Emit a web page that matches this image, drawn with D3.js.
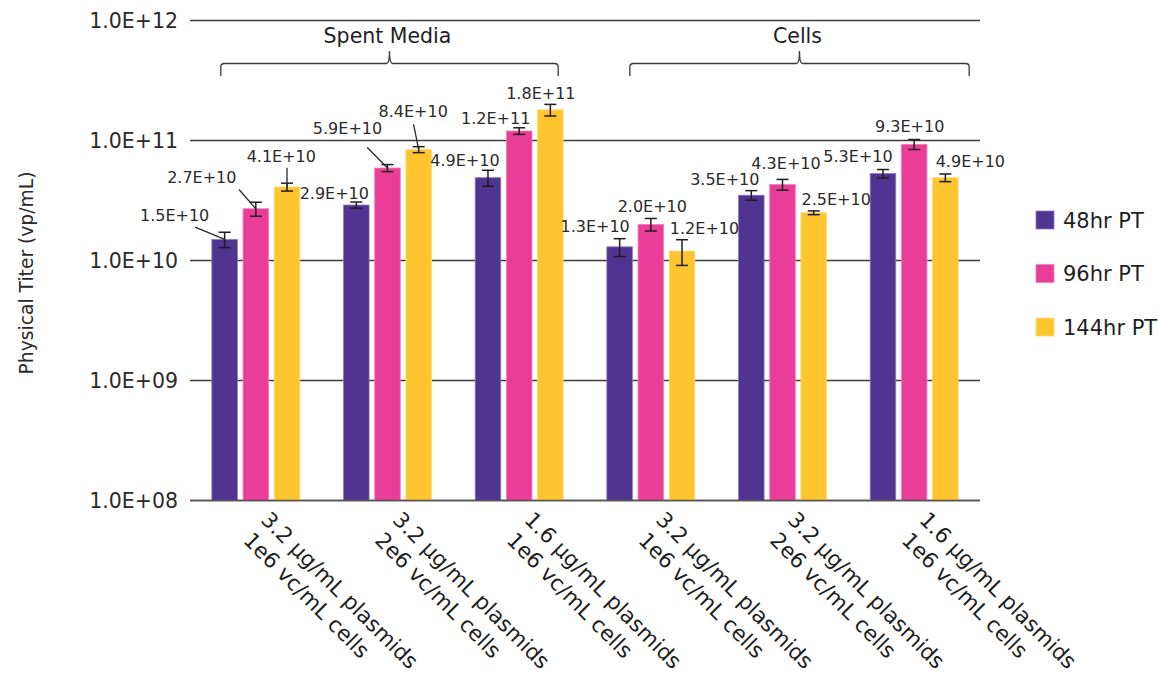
<!DOCTYPE html>
<html>
<head>
<meta charset="utf-8">
<script src="https://cdn.jsdelivr.net/npm/d3@7"></script>
<style>
  html, body { margin: 0; padding: 0; background: #fff; }
  svg { display: block; font-family: "DejaVu Sans", Verdana, sans-serif; }
</style>
</head>
<body>
<svg id="chart" width="1158" height="673"></svg>
<script>
// Condition labels (two lines each)
const categoryLine1 = ["3.2 µg/mL plasmids", "3.2 µg/mL plasmids", "1.6 µg/mL plasmids",
                       "3.2 µg/mL plasmids", "3.2 µg/mL plasmids", "1.6 µg/mL plasmids"];
const categoryLine2 = ["1e6 vc/mL cells", "2e6 vc/mL cells", "1e6 vc/mL cells",
                       "1e6 vc/mL cells", "2e6 vc/mL cells", "1e6 vc/mL cells"];

// Harvest time points
const seriesNames = ["48hr PT", "96hr PT", "144hr PT"];

// Physical titer (vp/mL)
const titer48 = [1.5e10, 2.9e10, 4.9e10, 1.3e10, 3.5e10, 5.3e10];
const titer96 = [2.7e10, 5.9e10, 1.2e11, 2.0e10, 4.3e10, 9.3e10];
const titer144 = [4.1e10, 8.4e10, 1.8e11, 1.2e10, 2.5e10, 4.9e10];

// Standard deviations (vp/mL)
const sd48 = [2.2e9, 1.7e9, 7.5e9, 2.2e9, 3.2e9, 4.3e9];
const sd96 = [3.6e9, 4.0e9, 7.6e9, 2.4e9, 4.4e9, 8.9e9];
const sd144 = [3.1e9, 4.8e9, 2.0e10, 2.9e9, 0.9e9, 3.6e9];

// Sample groupings shown above the plot
const groupNames = ["Spent Media", "Cells"];
const groupMembers = [[0, 1, 2], [3, 4, 5]];

const yTicks = [1e8, 1e9, 1e10, 1e11, 1e12];

// ---- layout ----
const colors = ["#4f3491", "#e93d97", "#fec52e"];
const plot = { left: 190, right: 980, top: 20.5, bottom: 500.5 };

// value label placement: [dx from bar centre to text centre, dy from bar top to baseline]
const labelOffsets = [
  [[-50, -18], [-22, -6], [-23, -11.5], [-24.5, -15], [-26.5, -10.7], [-25, -11.8]],
  [[-54, -26], [-40, -33.5], [-23.5, -6.5], [1.5, -12.6], [3.5, -15], [-4.5, -12.1]],
  [[-5.7, -24.8], [-5.5, -32.8], [-9.5, -10.4], [22.5, -16.5], [22.5, -8.2], [25, -10.9]]
];
// leader line start, relative to the bar top centre (null = no leader)
const leaderStarts = [
  [[-29.5, -12.2], null, null, null, null, null],
  [[-16.8, -19.2], [-20.4, -20.8], null, null, null, null],
  [[0, -19.2], [-5.1, -25.1], null, null, null, null]
];
// bracket extent relative to first / last group centre
const bracketPad = [[-35, 39], [-21, 55]];

const seriesValues = [titer48, titer96, titer144];
const seriesErrors = [sd48, sd96, sd144];

const svg = d3.select("#chart");

const x0 = d3.scaleBand()
  .domain(d3.range(categoryLine1.length))
  .range([plot.left, plot.right])
  .paddingInner(0.332)
  .paddingOuter(0.166);

const x1 = d3.scaleBand()
  .domain(d3.range(seriesNames.length))
  .range([0, x0.bandwidth()])
  .paddingInner(0.18);

const y = d3.scaleLog()
  .domain([1e8, 1e12])
  .range([plot.bottom, plot.top]);

// scientific notation with a two-digit exponent, e.g. 1.0E+09
const fmt = v => {
  const [m, e] = v.toExponential(1).split("e");
  const sign = e[0] === "-" ? "-" : "+";
  const digits = e.replace(/^[+-]/, "").padStart(2, "0");
  return `${m}E${sign}${digits}`;
};

// gridlines
svg.append("g")
  .selectAll("line")
  .data(yTicks)
  .join("line")
  .attr("x1", plot.left)
  .attr("x2", plot.right)
  .attr("y1", d => y(d))
  .attr("y2", d => y(d))
  .attr("stroke", "#3c3c3c")
  .attr("stroke-width", 1.3);

// y-axis tick labels
const yAxis = d3.axisLeft(y).tickValues(yTicks).tickFormat(fmt).tickSize(0).tickPadding(12);
const yAxisG = svg.append("g")
  .attr("transform", `translate(${plot.left},0)`)
  .call(yAxis);
yAxisG.select(".domain").remove();
yAxisG.selectAll("text")
  .attr("font-size", 20.5)
  .attr("fill", "#2a2a2a")
  .attr("font-family", "DejaVu Sans, Verdana, sans-serif");

// axis title
svg.append("text")
  .attr("transform", `translate(33,273) rotate(-90)`)
  .attr("text-anchor", "middle")
  .attr("font-size", 18.7)
  .attr("fill", "#2a2a2a")
  .text("Physical Titer (vp/mL)");

// bars
const barData = [];
seriesValues.forEach((vals, s) => vals.forEach((v, g) => barData.push({ s, g, v, e: seriesErrors[s][g] })));
const cx = d => x0(d.g) + x1(d.s) + x1.bandwidth() / 2;

svg.append("g")
  .selectAll("rect")
  .data(barData)
  .join("rect")
  .attr("x", d => x0(d.g) + x1(d.s))
  .attr("width", x1.bandwidth())
  .attr("y", d => y(d.v))
  .attr("height", d => plot.bottom - y(d.v))
  .attr("fill", d => colors[d.s])
  .attr("stroke", d => d3.interpolateRgb(colors[d.s], "#ffffff")(0.35))
  .attr("stroke-width", 0.8);

// error bars
const capHalf = 6;
const eb = svg.append("g").attr("stroke", "#1e1e1e").attr("stroke-width", 1.5);
barData.forEach(d => {
  const yt = y(d.v + d.e), yb = y(d.v - d.e), c = cx(d);
  eb.append("line").attr("x1", c).attr("x2", c).attr("y1", yt).attr("y2", yb);
  eb.append("line").attr("x1", c - capHalf).attr("x2", c + capHalf).attr("y1", yt).attr("y2", yt);
  eb.append("line").attr("x1", c - capHalf).attr("x2", c + capHalf).attr("y1", yb).attr("y2", yb);
});

// leader lines
barData.forEach(d => {
  const ls = leaderStarts[d.s][d.g];
  if (!ls) return;
  svg.append("line")
    .attr("x1", cx(d) + ls[0]).attr("y1", y(d.v) + ls[1])
    .attr("x2", cx(d)).attr("y2", y(d.v))
    .attr("stroke", "#2a2a2a")
    .attr("stroke-width", 1.3);
});

// value labels
svg.append("g")
  .selectAll("text")
  .data(barData)
  .join("text")
  .attr("x", d => cx(d) + labelOffsets[d.s][d.g][0])
  .attr("y", d => y(d.v) + labelOffsets[d.s][d.g][1])
  .attr("text-anchor", "middle")
  .attr("font-size", 16)
  .attr("fill", "#2a2a2a")
  .text(d => fmt(d.v));

// bottom axis line
svg.append("line")
  .attr("x1", plot.left).attr("x2", plot.right)
  .attr("y1", plot.bottom).attr("y2", plot.bottom)
  .attr("stroke", "#555").attr("stroke-width", 1.3);

// rotated category labels
categoryLine1.forEach((l1, i) => {
  const c = x0(i) + x0.bandwidth() / 2;
  const t = svg.append("text")
    .attr("transform", `translate(${c + 4},521) rotate(45)`)
    .attr("font-size", 21.5)
    .attr("fill", "#1e1e1e");
  t.append("tspan").attr("x", 0).attr("y", 0).text(l1);
  t.append("tspan").attr("x", 2).attr("y", 27).text(categoryLine2[i]);
});

// group brackets and titles
groupNames.forEach((name, k) => {
  const m = groupMembers[k];
  const xa = x0(m[0]) + x0.bandwidth() / 2 + bracketPad[k][0];
  const xb = x0(m[m.length - 1]) + x0.bandwidth() / 2 + bracketPad[k][1];
  const xm = (xa + xb) / 2;
  const yl = 63.5, yend = 76, ytip = 51, r = 3.5;
  const path = d3.path();
  path.moveTo(xa, yend);
  path.lineTo(xa, yl + r);
  path.quadraticCurveTo(xa, yl, xa + r, yl);
  path.lineTo(xm - 3, yl);
  path.quadraticCurveTo(xm, yl, xm, ytip);
  path.quadraticCurveTo(xm, yl, xm + 3, yl);
  path.lineTo(xb - r, yl);
  path.quadraticCurveTo(xb, yl, xb, yl + r);
  path.lineTo(xb, yend);
  svg.append("path")
    .attr("d", path.toString())
    .attr("fill", "none")
    .attr("stroke", "#3a3a3a")
    .attr("stroke-width", 1.3);
  svg.append("text")
    .attr("x", xm - 2)
    .attr("y", 43)
    .attr("text-anchor", "middle")
    .attr("font-size", 20.5)
    .attr("fill", "#1e1e1e")
    .text(name);
});

// legend
const legend = svg.append("g").attr("transform", "translate(1036,211)");
seriesNames.forEach((n, s) => {
  const g = legend.append("g").attr("transform", `translate(0,${s * 53.5})`);
  g.append("rect").attr("width", 18).attr("height", 18)
    .attr("fill", colors[s])
    .attr("stroke", d3.interpolateRgb(colors[s], "#ffffff")(0.35))
    .attr("stroke-width", 0.8);
  g.append("text").attr("x", 27).attr("y", 9).attr("dy", "0.36em")
    .attr("font-size", 21).attr("fill", "#1e1e1e").text(n);
});
</script>
</body>
</html>
